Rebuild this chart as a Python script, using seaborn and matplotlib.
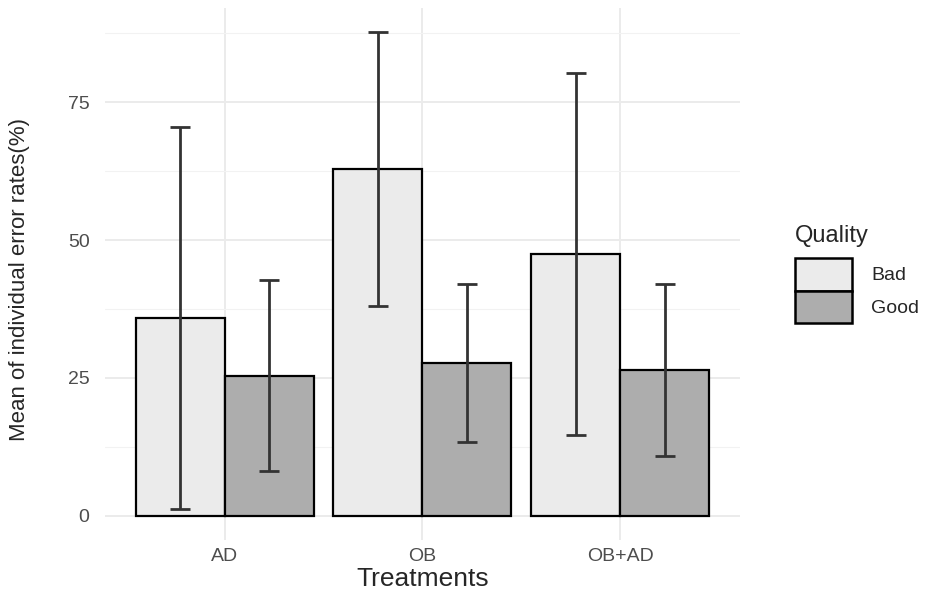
import numpy as np
import pandas as pd
import seaborn as sns
import matplotlib.pyplot as plt
from matplotlib.patches import Patch
from matplotlib.ticker import MultipleLocator

treatments = ["AD", "OB", "OB+AD"]
quality = ["Bad", "Good"]
mean_bad = [35.9, 62.9, 47.5]
mean_good = [25.4, 27.7, 26.4]
sd_bad = [34.7, 24.9, 32.9]
sd_good = [17.3, 14.3, 15.6]

df = pd.DataFrame({
    "Treatments": treatments * 2,
    "Quality": ["Bad"] * 3 + ["Good"] * 3,
    "mean": mean_bad + mean_good,
    "sd": sd_bad + sd_good,
})

colors = {"Bad": "#EBEBEB", "Good": "#ADADAD"}

sns.set_style("white")
plt.rcParams['font.family'] = ['Liberation Sans', 'DejaVu Sans']

fig = plt.figure(figsize=(9.44, 5.93), dpi=100)
ax = fig.add_axes([0.111, 0.0894, 0.673, 0.897])

sns.barplot(data=df, x="Treatments", y="mean", hue="Quality", order=treatments,
            hue_order=quality, palette=colors, edgecolor="black", linewidth=1.6,
            width=0.9, gap=0, errorbar=None, legend=False, ax=ax, zorder=2)

# error bars at the centre of each bar
for cont, q in zip(ax.containers, quality):
    sub = df[df.Quality == q].set_index("Treatments").loc[treatments]
    xs = [b.get_x() + b.get_width() / 2 for b in cont]
    ax.errorbar(xs, sub["mean"], yerr=sub["sd"], fmt="none", ecolor="#333333",
                elinewidth=2, capsize=7.2, capthick=2, zorder=3)

ax.set_xlim(-0.606, 2.606)
ax.set_ylim(-4.4, 92.1)
ax.yaxis.set_major_locator(MultipleLocator(25))
ax.yaxis.set_minor_locator(MultipleLocator(12.5))
ax.grid(True, which="major", color="#EBEBEB", linewidth=1.4, zorder=0)
ax.grid(True, which="minor", axis="y", color="#F2F2F2", linewidth=0.8, zorder=0)
ax.set_axisbelow(True)
for s in ax.spines.values():
    s.set_visible(False)
ax.tick_params(axis="both", which="both", length=0, labelcolor="#4D4D4D", labelsize=14)
ax.tick_params(axis="y", pad=11)
ax.tick_params(axis="x", pad=6)

ax.set_xlabel("Treatments", fontsize=19, labelpad=1)
ax.set_ylabel("Mean of individual error rates(%)", fontsize=16)
ax.yaxis.set_label_coords(-0.118, 0.49)

handles = [Patch(facecolor=colors[q], edgecolor="black", linewidth=1.8, label=q) for q in quality]
leg = fig.legend(handles=handles, title="Quality", loc="upper left",
                 bbox_to_anchor=(0.832, 0.637), frameon=False, fontsize=14,
                 title_fontsize=17, handlelength=2.9, handleheight=2.2,
                 labelspacing=0.0, handletextpad=1.0, borderpad=0)
leg._legend_box.align = "left"
leg._legend_box.sep = 8

fig.savefig("out.png", dpi=100)
